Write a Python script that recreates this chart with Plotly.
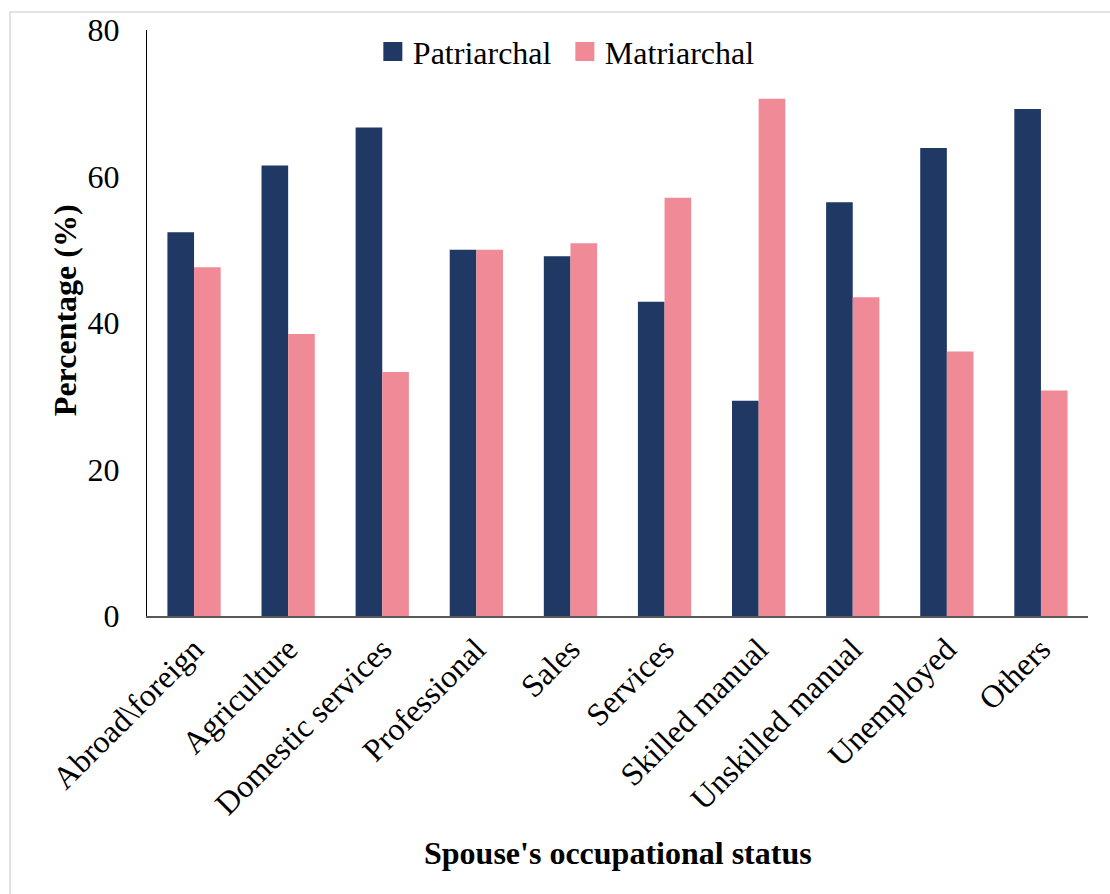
import plotly.graph_objects as go

# Spouse's occupational status categories and household-type shares (%)
categories = [
    "Abroad\\foreign", "Agriculture", "Domestic services", "Professional",
    "Sales", "Services", "Skilled manual", "Unskilled manual",
    "Unemployed", "Others",
]
patriarchal = [52.4, 61.5, 66.7, 50.0, 49.1, 42.9, 29.4, 56.5, 63.9, 69.2]
matriarchal = [47.6, 38.5, 33.3, 50.0, 50.9, 57.1, 70.6, 43.5, 36.1, 30.8]
y_ticks = [0, 20, 40, 60, 80]

NAVY = "#203864"
PINK = "#F08A96"
FONT = "Liberation Serif"
FS = 32

fig = go.Figure()
fig.add_trace(go.Bar(x=categories, y=patriarchal, name="Patriarchal",
                     marker=dict(color=NAVY, line=dict(width=0)), showlegend=False))
fig.add_trace(go.Bar(x=categories, y=matriarchal, name="Matriarchal",
                     marker=dict(color=PINK, line=dict(width=0)), showlegend=False))

# legend entries with larger square swatches
for name, col in [("Patriarchal", NAVY), ("Matriarchal", PINK)]:
    fig.add_trace(go.Scatter(x=[None], y=[None], mode="markers", name=name,
                             marker=dict(symbol="square", size=16, color=col,
                                         line=dict(color=col, width=3))))

fig.update_layout(
    width=1110, height=894,
    margin=dict(l=147, r=22, t=30, b=278),
    paper_bgcolor="white", plot_bgcolor="white",
    font=dict(family=FONT, size=FS, color="black"),
    barmode="group", bargap=0.434, bargroupgap=0,
    showlegend=True,
    legend=dict(orientation="h", x=0.24, xanchor="left", y=1.01, yanchor="top",
                font=dict(family=FONT, size=FS), bgcolor="rgba(0,0,0,0)",
                itemsizing="trace", entrywidth=147, entrywidthmode="pixels"),
    xaxis=dict(tickangle=-45, showline=True, linecolor="#595959", linewidth=1.5,
               ticks="", showgrid=False, tickfont=dict(family=FONT, size=FS)),
    yaxis=dict(range=[0, 80], tickvals=y_ticks, showline=True, linecolor="black",
               linewidth=1, ticks="", showgrid=False, zeroline=False,
               ticklabelstandoff=20, tickfont=dict(family=FONT, size=FS)),
    annotations=[
        dict(text="<b>Spouse's occupational status</b>", xref="paper", yref="paper",
             x=0.5, y=-0.4044, xanchor="center", yanchor="middle", showarrow=False,
             font=dict(family=FONT, size=FS)),
        dict(text="<b>Percentage (%)</b>", xref="paper", yref="paper",
             x=-0.0871, y=0.522, xanchor="center", yanchor="middle", textangle=-90,
             showarrow=False, font=dict(family=FONT, size=FS)),
    ],
    shapes=[
        dict(type="rect", xref="paper", yref="paper", x0=-0.1456, y0=-0.49,
             x1=1.03, y1=1.0307, line=dict(color="#D9D9D9", width=1.5),
             fillcolor="rgba(0,0,0,0)", layer="below"),
    ],
)

fig.write_html("out.html")
